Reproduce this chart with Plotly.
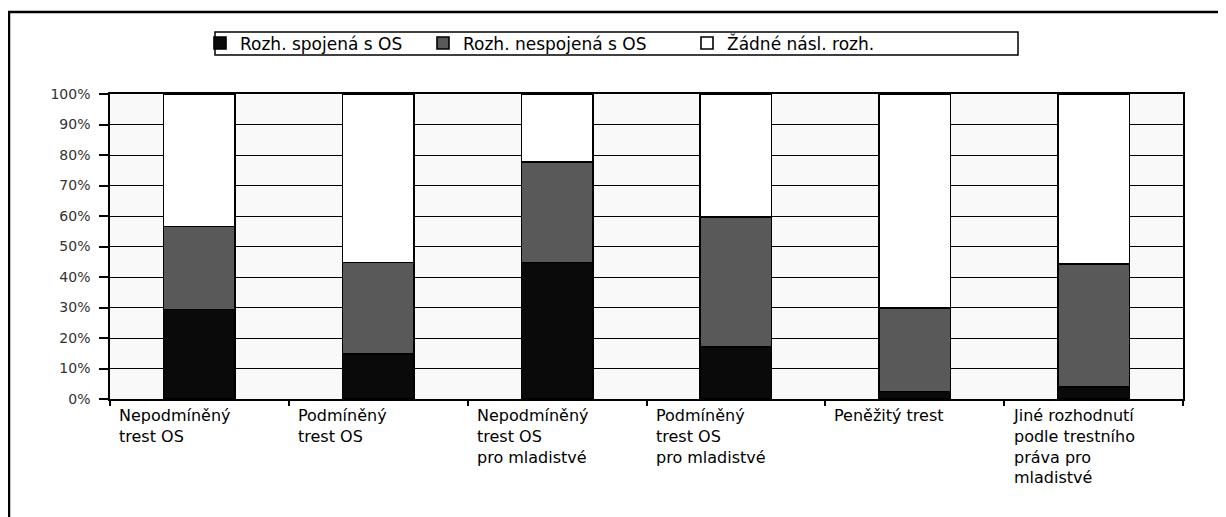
import plotly.graph_objects as go

categories = [
    "Nepodmíněný<br>trest OS",
    "Podmíněný<br>trest OS",
    "Nepodmíněný<br>trest OS<br>pro mladistvé",
    "Podmíněný<br>trest OS<br>pro mladistvé",
    "Peněžitý trest",
    "Jiné rozhodnutí<br>podle trestního<br>práva pro<br>mladistvé",
]
series_names = ["Rozh. spojená s OS", "Rozh. nespojená s OS", "Žádné násl. rozh."]
spojena = [29.4, 14.8, 44.7, 17.1, 2.4, 4.0]
nespojena = [27.1, 29.9, 33.1, 42.5, 27.4, 40.2]
zadne = [43.5, 55.3, 22.2, 40.4, 70.2, 55.8]
y_ticks = [0, 10, 20, 30, 40, 50, 60, 70, 80, 90, 100]
y_tick_labels = ["0%", "10%", "20%", "30%", "40%", "50%", "60%", "70%", "80%", "90%", "100%"]

colors = ["#0a0a0a", "#595959", "#ffffff"]
xs = list(range(len(categories)))

# page body has an 8px margin, so the figure is sized/placed to compensate
W, H = 1218, 509
L, R, T, B = 102, 43, 86, 118
pw, ph = W - L - R, H - T - B


def px_x(px):
    return (px - L) / pw


def px_y(py):
    return (H - B - py) / ph


legend_names = ["legend", "legend2", "legend3"]
legend_left_px = [192, 415, 679]

fig = go.Figure()
for name, vals, col, lg in zip(series_names, [spojena, nespojena, zadne], colors, legend_names):
    fig.add_trace(go.Bar(
        x=xs, y=vals, name=name, width=0.4, legend=lg,
        marker=dict(color=col, line=dict(color="#000000", width=1.6)),
    ))

legend_common = dict(
    orientation="h", xanchor="left", yanchor="middle", y=px_y(35.5),
    bgcolor="rgba(0,0,0,0)", borderwidth=0, itemwidth=30,
    font=dict(size=17, family="DejaVu Sans", color="#000000"),
)

fig.update_layout(
    width=W, height=H, barmode="stack",
    margin=dict(l=L, r=R, t=T, b=B),
    paper_bgcolor="#ffffff", plot_bgcolor="#f9f9f9",
    font=dict(family="DejaVu Sans", color="#000000"),
    showlegend=True,
    legend=dict(x=px_x(legend_left_px[0]), **legend_common),
    legend2=dict(x=px_x(legend_left_px[1]), **legend_common),
    legend3=dict(x=px_x(legend_left_px[2]), **legend_common),
    xaxis=dict(
        range=[-0.5, len(categories) - 0.5],
        tickvals=[i - 0.5 for i in range(len(categories) + 1)],
        ticktext=[""] * (len(categories) + 1),
        ticks="outside", ticklen=5, tickcolor="#000000", tickwidth=1.5,
        showgrid=False, showline=True, linecolor="#000000", linewidth=1.5,
        mirror=True, zeroline=False,
    ),
    yaxis=dict(
        range=[0, 100], tickvals=y_ticks, ticktext=y_tick_labels,
        ticks="outside", ticklen=9, tickcolor="#000000", tickwidth=1.5,
        ticklabelstandoff=6,
        showgrid=True, gridcolor="#000000", gridwidth=1.3,
        showline=True, linecolor="#000000", linewidth=1.5, mirror=True,
        zeroline=False,
        tickfont=dict(size=14, family="DejaVu Sans", color="#333333"),
    ),
)

for i, lab in enumerate(categories):
    fig.add_annotation(
        x=i - 0.5, y=0, xref="x", yref="y", text=lab, showarrow=False,
        xanchor="left", yanchor="top", align="left", xshift=7, yshift=-5,
        font=dict(size=16, family="DejaVu Sans", color="#000000"),
    )

# legend frame
fig.add_shape(
    type="rect", xref="paper", yref="paper",
    x0=px_x(207), x1=px_x(1010), y0=px_y(47), y1=px_y(24),
    line=dict(color="#000000", width=1.5), fillcolor="rgba(0,0,0,0)", layer="below",
)

# outer frame of the chart
fig.add_shape(
    type="rect", xref="paper", yref="paper",
    x0=px_x(1), x1=px_x(W + 20), y0=px_y(H + 20), y1=px_y(4),
    line=dict(color="#000000", width=2.5), fillcolor="rgba(0,0,0,0)", layer="above",
)

fig.write_html("out.html")
